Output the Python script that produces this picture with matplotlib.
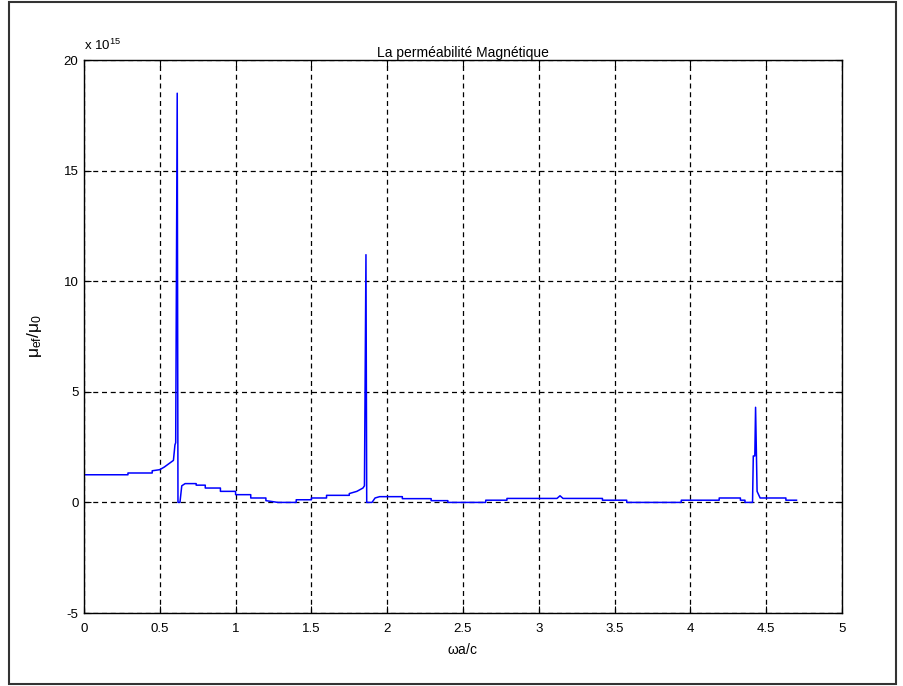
import numpy as np
import matplotlib
matplotlib.use("Agg")
import matplotlib.pyplot as plt
from matplotlib.patches import Rectangle

plt.rcParams['font.family'] = ['Liberation Sans', 'DejaVu Sans']
plt.rcParams['mathtext.fontset'] = 'custom'
plt.rcParams['mathtext.rm'] = 'Liberation Sans'
plt.rcParams['mathtext.it'] = 'Liberation Sans'
plt.rcParams['axes.unicode_minus'] = False

# omega*a/c and mu_eff/mu_0 (in units of 1e15)
wa_c = [0.0, 0.29, 0.29, 0.45, 0.45, 0.50, 0.53, 0.55, 0.57, 0.59, 0.60, 0.605,
        0.615, 0.62, 0.633, 0.645, 0.667, 0.74, 0.74, 0.80, 0.80, 0.90, 0.90,
        1.00, 1.00, 1.10, 1.10, 1.20, 1.20, 1.28, 1.34, 1.40, 1.40, 1.50, 1.50,
        1.60, 1.60, 1.75, 1.75, 1.80, 1.84, 1.85, 1.86, 1.865, 1.90,
        1.92, 1.95, 2.10, 2.10, 2.29, 2.29, 2.40, 2.40, 2.65, 2.65, 2.79, 2.79,
        3.12, 3.14, 3.16, 3.42, 3.42, 3.58, 3.58, 3.94, 3.94, 4.19, 4.19, 4.33,
        4.33, 4.36, 4.36, 4.41, 4.415, 4.425, 4.43, 4.44, 4.46, 4.63, 4.63, 4.70]
mu_ef = [1.25, 1.25, 1.33, 1.33, 1.43, 1.48, 1.60, 1.70, 1.80, 1.90, 2.60, 2.70,
         18.5, 0.0, 0.0, 0.75, 0.85, 0.85, 0.78, 0.78, 0.65, 0.65, 0.50,
         0.50, 0.35, 0.35, 0.20, 0.20, 0.08, 0.0, 0.0, 0.0, 0.12, 0.12, 0.20,
         0.20, 0.32, 0.32, 0.40, 0.50, 0.65, 0.75, 11.2, 0.0, 0.0,
         0.20, 0.26, 0.26, 0.17, 0.17, 0.08, 0.08, 0.0, 0.0, 0.10, 0.10, 0.18,
         0.18, 0.30, 0.18, 0.18, 0.10, 0.10, 0.0, 0.0, 0.10, 0.10, 0.20, 0.20,
         0.10, 0.10, 0.0, 0.0, 2.1, 2.1, 4.3, 0.5, 0.2, 0.2, 0.10, 0.10]

xticks = [0, 0.5, 1, 1.5, 2, 2.5, 3, 3.5, 4, 4.5, 5]
xticklabels = ['0', '0.5', '1', '1.5', '2', '2.5', '3', '3.5', '4', '4.5', '5']
yticks = [-5, 0, 5, 10, 15, 20]

fig = plt.figure(figsize=(9.04, 6.86), dpi=100)
fig.patches.append(Rectangle((0.010, 0.003), 0.981, 0.994, transform=fig.transFigure,
                             fill=False, edgecolor='#333333', linewidth=1.5))
ax = fig.add_axes([0.0929, 0.1064, 0.8385, 0.8061])

ax.plot(wa_c, mu_ef, color='#0000ff', linewidth=1.1)

ax.set_xlim(0, 5)
ax.set_ylim(-5, 20)
ax.set_xticks(xticks)
ax.set_xticklabels(xticklabels)
ax.set_yticks(yticks)
ax.tick_params(direction='in', length=5, width=0.8, labelsize=9.5,
               top=True, right=True, pad=4)
ax.tick_params(axis='x', pad=7)
for s in ax.spines.values():
    s.set_linewidth(1.0)
ax.grid(True, color='black', linestyle=(0, (4, 3)), linewidth=0.9)

ax.set_title('La perméabilité Magnétique', fontsize=10, pad=2)
ax.set_xlabel(r'$\omega$a/c', fontsize=10, labelpad=5)
ax.set_ylabel(r'$\mu_{ef}/\mu_0$', fontsize=12.5, labelpad=14)
ax.text(0.0, 1.012, r'x 10$^{15}$', transform=ax.transAxes, fontsize=9.5,
        ha='left', va='bottom')

fig.savefig('out.png', dpi=100)
